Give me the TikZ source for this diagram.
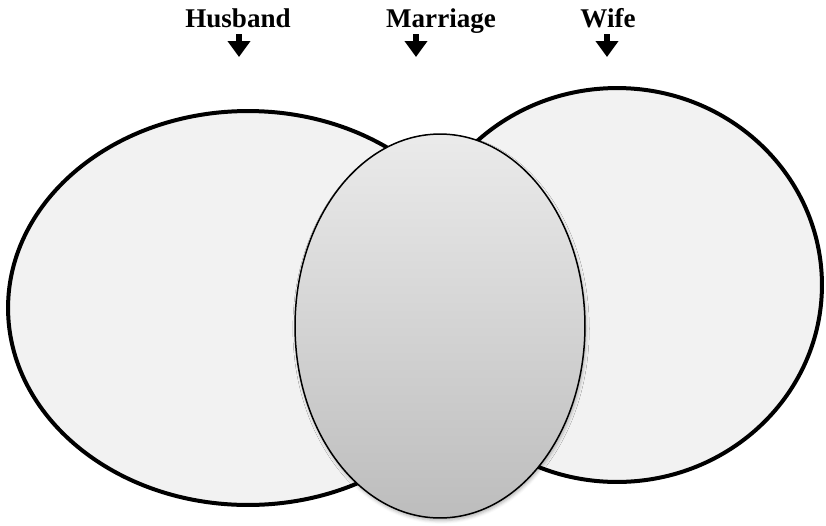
\documentclass[tikz,border=0pt]{standalone}
\usepackage{fontspec}
\setmainfont{Liberation Serif}
\usetikzlibrary{shapes.geometric,arrows.meta,shadows.blur}
\tikzset{
    side/.style={ellipse, draw, line width=0.08cm, fill=black!5},
    middle/.style={ellipse, draw, line width=0.03cm, top color=black!8, bottom color=black!26,
        blur shadow={shadow xshift=0.6pt, shadow yshift=-1.5pt, shadow opacity=30}},
    label/.style={font=\fontsize{15.4}{18}\selectfont\bfseries, inner sep=0pt, anchor=base},
    pointer/.style={line width=0.13cm, -{Triangle[width=0.44cm, length=0.32cm]}}
}
\begin{document}
\begin{tikzpicture}[x=0.02cm, y=-0.02cm]
\useasboundingbox (0,0) rectangle (826,525);
\node[side, minimum width=9.6cm, minimum height=7.88cm](husbandset) at (248,308){};
\node[side, minimum width=8.2cm, minimum height=7.88cm](wifeset) at (617,285){};
\node[middle, minimum width=5.8cm, minimum height=7.68cm](marriageset) at (440,326){};
\node[label](husband) at (238,27){Husband};
\node[label](marriage) at (441,27){Marriage};
\node[label](wife) at (608,27){Wife};
\coordinate (husband-tip) at (239,57);
\coordinate (marriage-tip) at (416,57);
\coordinate (wife-tip) at (607,57);
\draw[pointer](husband-tip |- 0,34)--(husband-tip);
\draw[pointer](marriage-tip |- 0,34)--(marriage-tip);
\draw[pointer](wife-tip |- 0,34)--(wife-tip);
\end{tikzpicture}
\end{document}
